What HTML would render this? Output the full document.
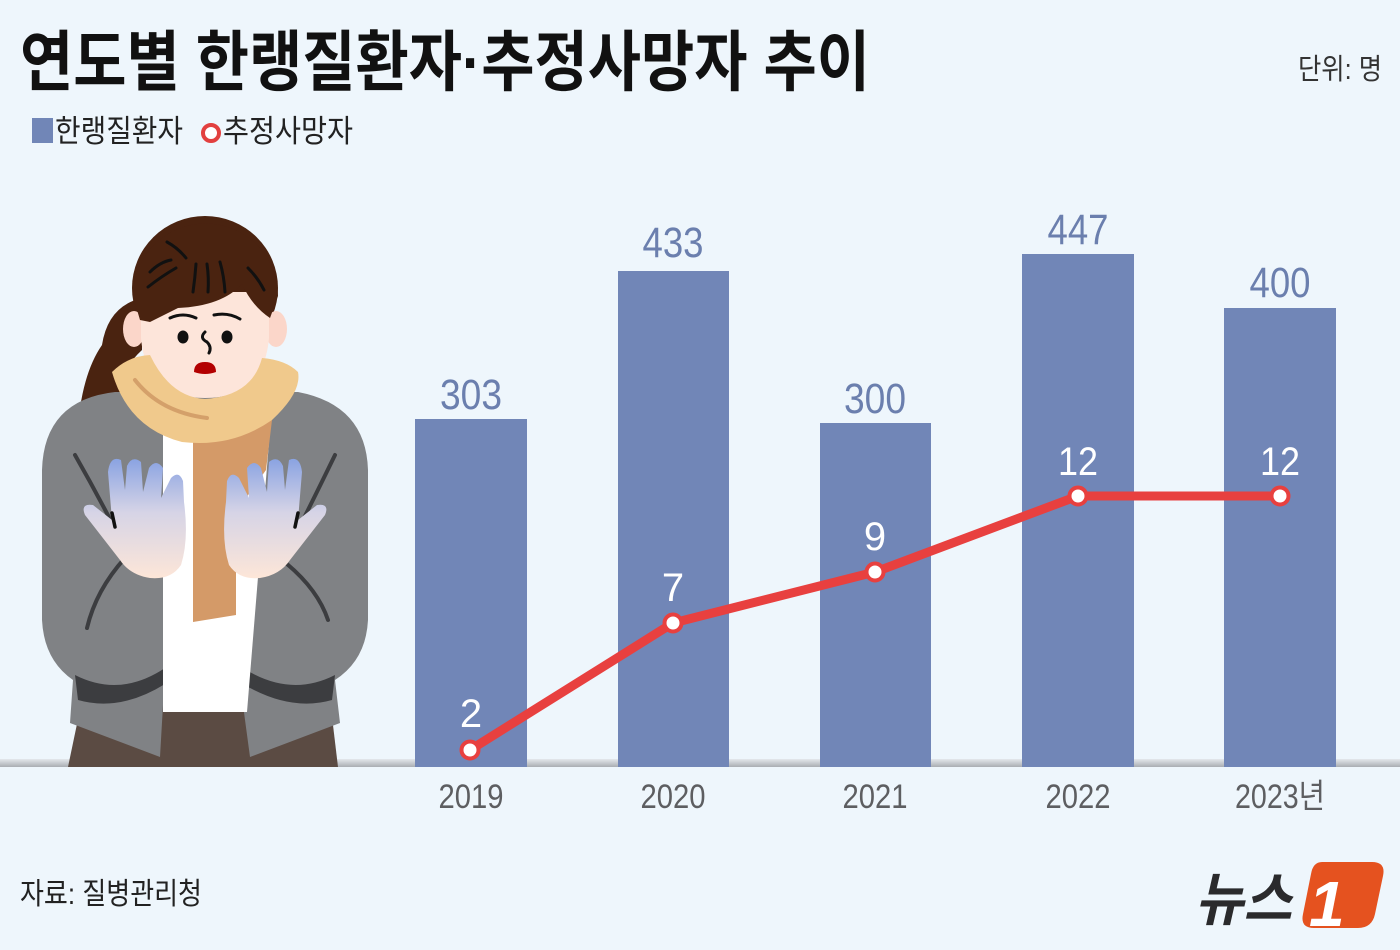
<!DOCTYPE html>
<html>
<head>
<meta charset="utf-8">
<style>
  html, body { margin: 0; padding: 0; background: #eef6fc; }
  svg { display: block; }
  .kr { font-family: "Liberation Sans", "Noto Sans CJK KR", "NanumGothic", sans-serif; }
  .num { font-family: "Liberation Sans", "DejaVu Sans", sans-serif; }
</style>
</head>
<body>
<svg width="1400" height="950" viewBox="0 0 1400 950" xmlns="http://www.w3.org/2000/svg">
  <defs>
    <linearGradient id="base" x1="0" y1="0" x2="0" y2="1">
      <stop offset="0" stop-color="#e4e8ec"/>
      <stop offset="1" stop-color="#a9adb2"/>
    </linearGradient>
    <linearGradient id="hand" x1="0" y1="0" x2="0" y2="1">
      <stop offset="0" stop-color="#8aa3e2"/>
      <stop offset="0.45" stop-color="#d6d4e6"/>
      <stop offset="1" stop-color="#fde6d8"/>
    </linearGradient>
  </defs>

  <rect width="1400" height="950" fill="#eef6fc"/>

  <!-- Title -->
  <text class="kr" x="20" y="85" font-size="66" font-weight="bold" fill="#111" textLength="850" lengthAdjust="spacingAndGlyphs">연도별 한랭질환자·추정사망자 추이</text>
  <text class="kr" x="1298" y="79" font-size="29" fill="#333" textLength="84" lengthAdjust="spacingAndGlyphs">단위: 명</text>

  <!-- Legend -->
  <rect x="32" y="118" width="21" height="25" fill="#7186b7"/>
  <text class="kr" x="55" y="142" font-size="31" fill="#222" textLength="128" lengthAdjust="spacingAndGlyphs">한랭질환자</text>
  <circle cx="211" cy="133" r="8" fill="#fff" stroke="#e2403f" stroke-width="4"/>
  <text class="kr" x="223" y="142" font-size="31" fill="#222" textLength="130" lengthAdjust="spacingAndGlyphs">추정사망자</text>

  <!-- Baseline band -->
  <rect x="0" y="759" width="1400" height="8" fill="url(#base)"/>

  <!-- Bars -->
  <g fill="#7186b7">
    <rect x="415" y="419" width="112" height="348"/>
    <rect x="618" y="271" width="111" height="496"/>
    <rect x="820" y="423" width="111" height="344"/>
    <rect x="1022" y="254" width="112" height="513"/>
    <rect x="1224" y="308" width="112" height="459"/>
  </g>

  <!-- Bar value labels -->
  <g class="num" font-size="43" fill="#6b7fae" text-anchor="middle">
    <text x="471" y="409" textLength="62" lengthAdjust="spacingAndGlyphs">303</text>
    <text x="673" y="257" textLength="61" lengthAdjust="spacingAndGlyphs">433</text>
    <text x="875" y="413" textLength="62" lengthAdjust="spacingAndGlyphs">300</text>
    <text x="1078" y="244" textLength="61" lengthAdjust="spacingAndGlyphs">447</text>
    <text x="1280" y="297" textLength="61" lengthAdjust="spacingAndGlyphs">400</text>
  </g>

  <!-- Line series -->
  <polyline points="470,750 673,623 875,572 1078,496 1280,496" fill="none" stroke="#e8403f" stroke-width="9" stroke-linejoin="round" stroke-linecap="round"/>
  <g fill="#fff" stroke="#e8403f" stroke-width="4">
    <circle cx="470" cy="750" r="8.5"/>
    <circle cx="673" cy="623" r="8.5"/>
    <circle cx="875" cy="572" r="8.5"/>
    <circle cx="1078" cy="496" r="8.5"/>
    <circle cx="1280" cy="496" r="8.5"/>
  </g>
  <g class="num" font-size="40" fill="#ffffff" text-anchor="middle">
    <text x="471" y="727">2</text>
    <text x="673" y="601">7</text>
    <text x="875" y="550">9</text>
    <text x="1078" y="475" textLength="40" lengthAdjust="spacingAndGlyphs">12</text>
    <text x="1280" y="475" textLength="40" lengthAdjust="spacingAndGlyphs">12</text>
  </g>

  <!-- X axis labels -->
  <g class="kr" font-size="34" fill="#5d5e61" text-anchor="middle">
    <text x="471" y="808" textLength="65" lengthAdjust="spacingAndGlyphs">2019</text>
    <text x="673" y="808" textLength="65" lengthAdjust="spacingAndGlyphs">2020</text>
    <text x="875" y="808" textLength="65" lengthAdjust="spacingAndGlyphs">2021</text>
    <text x="1078" y="808" textLength="65" lengthAdjust="spacingAndGlyphs">2022</text>
    <text x="1280" y="808" textLength="90" lengthAdjust="spacingAndGlyphs">2023년</text>
  </g>

  <!-- Source -->
  <text class="kr" x="20" y="904" font-size="30" fill="#222" textLength="182" lengthAdjust="spacingAndGlyphs">자료: 질병관리청</text>

  <!-- Logo -->
  <text class="kr" x="1195" y="920" font-size="58" font-weight="bold" font-style="italic" fill="#2a2a2c" textLength="97" lengthAdjust="spacingAndGlyphs">뉴스</text>
  <path d="M1322 862 L1372 862 Q1386 862 1383 876 L1375 914 Q1372 928 1358 928 L1314 928 Q1300 928 1303 914 L1311 874 Q1313 862 1322 862 Z" fill="#e5521f"/>
  <text class="num" x="1309" y="926" font-size="64" font-weight="bold" font-style="italic" fill="#ffffff">1</text>

  <!-- Illustration -->
  <g>
    <!-- pants -->
    <path d="M68 767 L82 700 L330 700 L338 767 Z" fill="#5b4b43"/>
    <!-- ponytail -->
    <path d="M142 298 Q108 306 102 345 Q86 368 80 408 L120 400 Q118 372 142 350 Z" fill="#4a2310"/>
    <!-- jacket -->
    <path d="M42 470 Q44 400 115 392 L298 392 Q366 405 368 470 L368 620 Q366 660 335 680 L340 723 L250 757 L243 705 L163 705 L160 757 L70 723 L73 680 Q44 660 42 620 Z" fill="#808285"/>
    <!-- dark bands -->
    <path d="M75 675 Q120 698 165 668 L165 684 Q120 712 78 700 Z" fill="#3c3d40"/>
    <path d="M243 668 Q290 698 335 675 L332 700 Q290 712 243 684 Z" fill="#3c3d40"/>
    <!-- white shirt -->
    <path d="M163 430 L270 430 L247 712 L163 712 Z" fill="#ffffff"/>
    <!-- scarf hanging strip -->
    <path d="M193 428 L272 420 L266 470 L236 512 L236 615 L193 622 Z" fill="#d49a68"/>
    <!-- hair dome -->
    <ellipse cx="205" cy="288" rx="73" ry="72" fill="#4a2310"/>
    <!-- ears -->
    <ellipse cx="134" cy="329" rx="11" ry="18" fill="#fbd6c9"/>
    <ellipse cx="276" cy="329" rx="11" ry="18" fill="#fbd6c9"/>
    <!-- face -->
    <path d="M141 292 L141 338 Q146 398 205 398 Q264 398 269 338 L269 292 Z" fill="#fde5da"/>
    <!-- bangs -->
    <path d="M133 296 A72 72 0 0 1 278 296 L270 318 Q252 306 242 284 Q222 306 178 308 L150 322 L140 320 Z" fill="#4a2310"/>
    <!-- hair strands -->
    <g stroke="#111" stroke-width="3" stroke-linecap="round" fill="none">
      <path d="M167 242 Q178 248 186 258"/>
      <path d="M150 272 Q160 262 171 260"/>
      <path d="M148 287 Q162 276 176 268"/>
      <path d="M196 264 Q195 278 193 292"/>
      <path d="M207 264 Q209 278 208 292"/>
      <path d="M220 262 Q224 276 225 292"/>
      <path d="M248 268 Q258 278 264 290"/>
    </g>
    <!-- face details -->
    <g stroke="#111" stroke-width="3" stroke-linecap="round" fill="none">
      <path d="M170 318 Q183 312 196 318"/>
      <path d="M214 315 Q228 312 240 319"/>
      <path d="M205 332 Q199 338 207 342 Q212 347 209 353"/>
    </g>
    <ellipse cx="183" cy="337" rx="5.5" ry="6.5" fill="#111"/>
    <ellipse cx="227" cy="337" rx="5.5" ry="6.5" fill="#111"/>
    <path d="M194 372 Q194 362 205 362 Q216 362 216 372 Q205 376 194 372 Z" fill="#b30000"/>
    <!-- scarf -->
    <path d="M112 372 Q128 356 150 355 Q170 397 205 399 Q252 396 262 358 Q286 360 298 372 Q302 392 272 420 Q232 448 182 442 Q128 428 112 372 Z" fill="#f0c98c"/>
    <path d="M135 380 Q160 412 207 418" stroke="#d4a06a" stroke-width="4" fill="none" stroke-linecap="round"/>
    <!-- jacket creases -->
    <g stroke="#3c3d40" stroke-width="4" stroke-linecap="round" fill="none">
      <path d="M75 455 Q95 490 113 525"/>
      <path d="M125 558 Q96 590 87 628"/>
      <path d="M335 455 Q318 490 303 520"/>
      <path d="M287 564 Q318 590 328 620"/>
    </g>
    <!-- hands -->
    <path d="M85 515 Q80 503 93 505 L112 520 L108 472 Q110 455 121 460 L125 490 L127 466 Q132 455 141 462 L143 492 L149 468 Q156 458 163 468 L161 498 L171 478 Q179 470 183 481 L184 502 Q189 540 181 565 Q171 580 150 578 Q130 575 120 560 Z" fill="url(#hand)"/>
    <path d="M325 515 Q330 503 317 505 L298 520 L302 472 Q300 455 289 460 L285 490 L283 466 Q278 455 269 462 L267 492 L261 468 Q254 458 247 468 L249 498 L239 478 Q231 470 227 481 L226 502 Q221 540 229 565 Q239 580 260 578 Q280 575 290 560 Z" fill="url(#hand)"/>
    <g stroke="#111" stroke-width="3.5" stroke-linecap="round">
      <line x1="112" y1="513" x2="115" y2="527"/>
      <line x1="298" y1="513" x2="295" y2="527"/>
    </g>
  </g>
</svg>
</body>
</html>
